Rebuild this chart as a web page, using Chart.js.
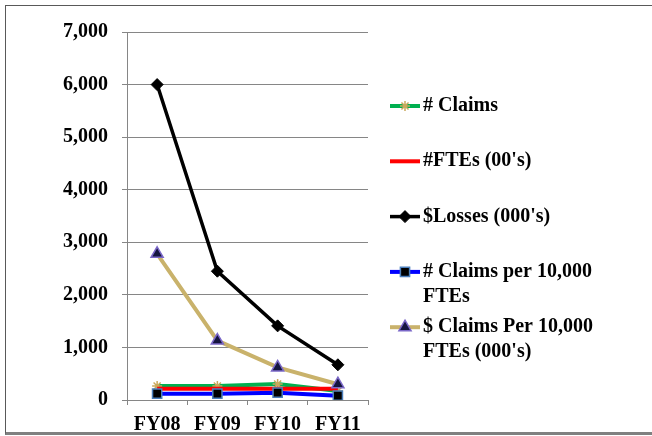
<!DOCTYPE html>
<html>
<head>
<meta charset="utf-8">
<script src="https://cdn.jsdelivr.net/npm/chart.js@4"></script>
<style>
  html, body { margin: 0; padding: 0; background: #fff; }
  #wrap { position: relative; width: 652px; height: 436px; overflow: hidden; }
  canvas { position: absolute; left: 0; top: 0; }
  #frame {
    position: absolute; left: 5px; top: 5px; width: 700px; height: 426px;
    border-left: 1px solid #595959; border-top: 1px solid #595959;
    border-bottom: 3px solid #808080; pointer-events: none;
  }
</style>
</head>
<body>
<div id="wrap">
  <canvas id="chart" width="652" height="436"></canvas>
  <div id="frame"></div>
</div>
<script>
// Fiscal years on the category axis
const categories = ['FY08', 'FY09', 'FY10', 'FY11'];

// Series names as shown in the legend
const seriesNames = [
  '# Claims',
  "#FTEs (00's)",
  "$Losses (000's)",
  '# Claims per 10,000 FTEs',
  "$ Claims Per 10,000 FTEs (000's)"
];

// Series values
const claimCount = [266, 266, 304, 172];
const ftesHundreds = [216, 216, 216, 214];
const lossesThousands = [6000, 2450, 1410, 670];
const claimsPer10k = [120, 120, 139, 82];
const dollarClaimsPer10k = [2780, 1130, 620, 300];

// Value axis tick labels
const yTickValues = [0, 1000, 2000, 3000, 4000, 5000, 6000, 7000];

const FONT = { family: '"Liberation Serif", "Times New Roman", serif', size: 20, weight: 'bold' };
const GRID = '#868686';

function wrapText(ctx, text, maxWidth) {
  const words = text.split(' ');
  const lines = [];
  let cur = '';
  words.forEach(w => {
    const test = cur ? cur + ' ' + w : w;
    if (cur && ctx.measureText(test).width > maxWidth) {
      lines.push(cur);
      cur = w;
    } else {
      cur = test;
    }
  });
  if (cur) lines.push(cur);
  return lines;
}

// Legend to the right of the plot, with wrapped labels
const sideLegend = {
  id: 'sideLegend',
  afterDraw(chart, args, o) {
    const ctx = chart.ctx;
    ctx.save();
    ctx.font = 'bold 20px "Liberation Serif", "Times New Roman", serif';
    ctx.textBaseline = 'middle';
    ctx.textAlign = 'left';
    chart.data.datasets.forEach((ds, i) => {
      const y = o.top + i * o.rowGap;
      ctx.strokeStyle = ds.borderColor;
      ctx.lineWidth = ds.borderWidth;
      ctx.lineCap = 'butt';
      ctx.beginPath();
      ctx.moveTo(o.x, y);
      ctx.lineTo(o.x + o.sample, y);
      ctx.stroke();
      if (ds.pointRadius > 0) {
        ctx.fillStyle = ds.pointBackgroundColor;
        ctx.strokeStyle = ds.pointBorderColor;
        ctx.lineWidth = ds.pointBorderWidth;
        Chart.helpers.drawPoint(ctx, {
          pointStyle: ds.pointStyle,
          radius: ds.pointRadius,
          rotation: 0,
          borderWidth: ds.pointBorderWidth
        }, o.x + o.sample / 2, y);
      }
      ctx.fillStyle = '#000';
      wrapText(ctx, ds.label, o.maxWidth).forEach((line, k) => {
        ctx.fillText(line, o.x + o.sample + o.gap, y + k * o.lineHeight);
      });
    });
    ctx.restore();
  }
};

const styles = [
  { borderColor: '#00B050', borderWidth: 4, pointStyle: 'star', pointRadius: 5,
    pointBackgroundColor: '#C9A95C', pointBorderColor: '#C9A95C', pointBorderWidth: 1.5 },
  { borderColor: '#FF0000', borderWidth: 4, pointStyle: 'circle', pointRadius: 0,
    pointBackgroundColor: '#FF0000', pointBorderColor: '#FF0000', pointBorderWidth: 0 },
  { borderColor: '#000000', borderWidth: 3.5, pointStyle: 'rectRot', pointRadius: 6,
    pointBackgroundColor: '#000000', pointBorderColor: '#000000', pointBorderWidth: 1 },
  { borderColor: '#0000FF', borderWidth: 4, pointStyle: 'rect', pointRadius: 6.5,
    pointBackgroundColor: '#000000', pointBorderColor: '#4A7EBB', pointBorderWidth: 1.5 },
  { borderColor: '#C9B26B', borderWidth: 4, pointStyle: 'triangle', pointRadius: 7,
    pointBackgroundColor: '#15153F', pointBorderColor: '#7B68C8', pointBorderWidth: 1.5 }
];

const values = [claimCount, ftesHundreds, lossesThousands, claimsPer10k, dollarClaimsPer10k];

const datasets = values.map((vals, i) => Object.assign({
  label: seriesNames[i],
  data: vals,
  tension: 0,
  fill: false,
  pointHoverRadius: styles[i].pointRadius,
  order: values.length - i
}, styles[i]));

new Chart(document.getElementById('chart'), {
  type: 'line',
  data: { labels: categories, datasets },
  plugins: [sideLegend],
  options: {
    responsive: false,
    animation: false,
    devicePixelRatio: 1,
    layout: { padding: { left: 0, top: 32, right: 284, bottom: 0 } },
    plugins: {
      legend: { display: false },
      tooltip: { enabled: false },
      sideLegend: { x: 390, top: 106, rowGap: 55.3, sample: 30, gap: 3, lineHeight: 25, maxWidth: 205 }
    },
    scales: {
      x: {
        offset: true,
        grid: { offset: true, drawOnChartArea: false, drawTicks: true, tickLength: 5, color: GRID },
        border: { color: GRID, width: 1 },
        ticks: { color: '#000', font: FONT, padding: 8, maxRotation: 0, autoSkip: false },
        afterFit(s) { s.height = 36; }
      },
      y: {
        min: 0,
        max: 7000,
        afterBuildTicks(s) { s.ticks = yTickValues.map(v => ({ value: v })); },
        ticks: {
          color: '#000', font: FONT, padding: 14,
          callback: v => Number(v).toLocaleString('en-US')
        },
        grid: { color: GRID, tickLength: 5, lineWidth: 1 },
        border: { color: GRID, width: 1 },
        afterFit(s) { s.width = 127; }
      }
    }
  }
});
</script>
</body>
</html>
